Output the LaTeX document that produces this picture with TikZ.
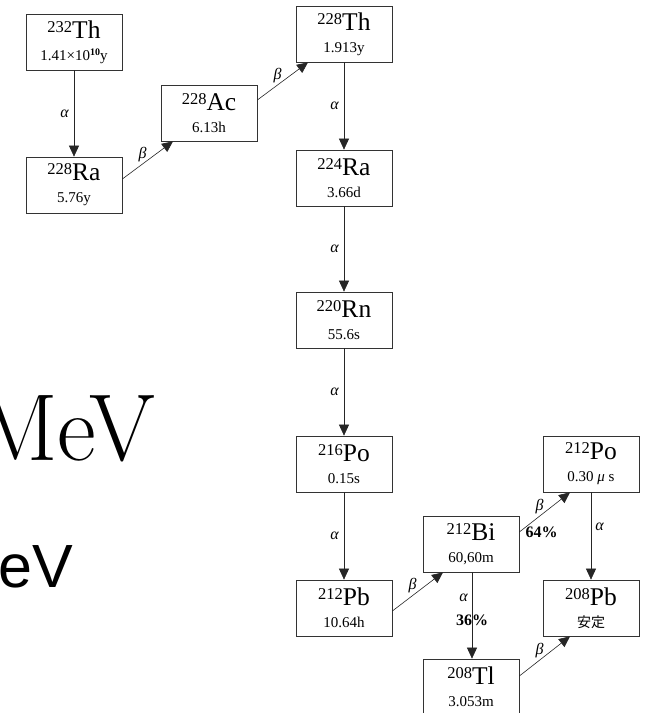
\documentclass[tikz,border=0pt]{standalone}
\usepackage{fontspec}
\usetikzlibrary{arrows.meta}
\newfontfamily\tnr{Liberation Serif}
\newfontfamily\arial{Liberation Sans}
\newfontfamily\cjk{Noto Sans CJK JP}
\newcommand{\nuc}[3]{\raisebox{6pt}{\fontsize{16.5}{16}\selectfont #1}#2\\{\fontsize{15}{16}\selectfont #3}}

\tikzset{
  nuclide/.style={draw=black!80, line width=0.7pt, minimum width=96pt, minimum height=56pt,
    inner sep=0pt, align=center, font=\tnr\fontsize{25.5}{22}\selectfont},
  decay/.style={draw=black!85, line width=0.6pt, -{Triangle[width=10pt,length=11pt]}},
  lbl/.style={font=\tnr\itshape\fontsize{16}{16}\selectfont, inner sep=2pt},
  pct/.style={font=\tnr\bfseries\fontsize{16}{16}\selectfont, inner sep=0pt}
}

\begin{document}
\begin{tikzpicture}[x=1pt, y=-1pt]
    \useasboundingbox (0,0) rectangle (651,713);

    % left over text of the slide
    \node[anchor=base east, inner sep=0pt, font=\fontsize{95}{95}\selectfont] (mev) at (155, 460) {MeV};
    \node[anchor=base east, inner sep=0pt, font=\arial\fontsize{61}{61}\selectfont] (ev) at (73, 587) {eV};

    % the chain
    \node[nuclide] (th232) at (74, 42) {\nuc{232}{Th}{1.41×10\raisebox{4.5pt}{\fontsize{10}{10}\selectfont\bfseries 10}y}};
    \node[nuclide] (ra228) at (74, 185) {\nuc{228}{Ra}{5.76y}};
    \node[nuclide] (ac228) at (209, 113) {\nuc{228}{Ac}{6.13h}};
    \node[nuclide] (th228) at (344, 34) {\nuc{228}{Th}{1.913y}};
    \node[nuclide] (ra224) at (344, 178) {\nuc{224}{Ra}{3.66d}};
    \node[nuclide] (rn220) at (344, 320) {\nuc{220}{Rn}{55.6s}};
    \node[nuclide] (po216) at (344, 464) {\nuc{216}{Po}{0.15s}};
    \node[nuclide] (pb212) at (344, 608) {\nuc{212}{Pb}{10.64h}};
    \node[nuclide] (bi212) at (471, 544) {\nuc{212}{Bi}{60,60m}};
    \node[nuclide] (po212) at (591, 464) {\nuc{212}{Po}{0.30 \textit{μ} s}};
    \node[nuclide] (pb208) at (591, 608) {\nuc{208}{Pb}{\cjk\fontsize{14}{16}\selectfont 安定}};
    \node[nuclide] (tl208) at (471, 687) {\nuc{208}{Tl}{3.053m}};

    \draw[decay] (th232) -- node[lbl, left=3pt] {α} (ra228);
    \draw[decay] ([yshift=6pt]ra228.east) -- node[lbl, pos=0.4, above] {β} ([xshift=-36pt]ac228.south);
    \draw[decay] ([yshift=13pt]ac228.east) -- node[lbl, pos=0.4, above] {β} ([xshift=-36pt]th228.south);
    \draw[decay] (th228) -- node[lbl, left=3pt] {α} (ra224);
    \draw[decay] (ra224) -- node[lbl, left=3pt] {α} (rn220);
    \draw[decay] (rn220) -- node[lbl, left=3pt] {α} (po216);
    \draw[decay] (po216) -- node[lbl, left=3pt] {α} (pb212);
    \draw[decay] ([yshift=-3pt]pb212.east) -- node[lbl, pos=0.4, above] {β} ([xshift=-28pt]bi212.south);
    \draw[decay] ([yshift=12pt]bi212.east) -- node[lbl, pos=0.4, above] {β}
        node[pct, at start, anchor=west, xshift=6pt] {64\%} ([xshift=-21pt]po212.south);
    \draw[decay] ([xshift=1pt]bi212.south) -- node[lbl, pos=0.3, left=2pt] {α}
        node[pct, pos=0.55] {36\%} ([xshift=1pt]tl208.north);
    \draw[decay] (po212) -- node[lbl, pos=0.4, right=2pt] {α} (pb208);
    \draw[decay] ([yshift=11pt]tl208.east) -- node[lbl, pos=0.4, above] {β} ([xshift=-21pt]pb208.south);
\end{tikzpicture}
\end{document}
